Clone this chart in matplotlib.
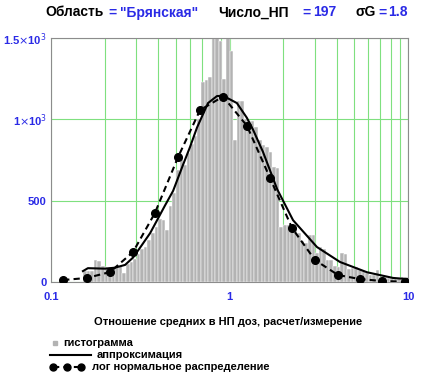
"""Histogram of calculated/measured dose ratio with fit and lognormal curve."""

import matplotlib

matplotlib.use("Agg")
import matplotlib.pyplot as plt
import numpy as np
from matplotlib.lines import Line2D
from matplotlib.ticker import FixedLocator, LogLocator, NullFormatter

plt.rcParams["font.family"] = ["Liberation Sans", "DejaVu Sans"]

BLUE = "#2a2ae6"
GREEN = "#7fe07f"
BAR = "#b3b3b3"

# histogram: log10 bin start, bin width (log10) and counts per bin
HIST_LOG_START = -0.82
HIST_LOG_WIDTH = 0.02
hist_counts = [
    65, 65, 70, 135, 130, 100, 95, 90, 85, 90,
    100, 55, 110, 120, 140, 170, 200, 215, 260, 300,
    340, 390, 380, 320, 470, 550, 690, 770, 720, 790,
    850, 900, 1000, 1230, 1240, 1260, 1560, 1560, 1480, 1250,
    1560, 1420, 870, 1115, 1115, 1000, 990, 990, 950, 870,
    840, 830, 800, 705, 700, 340, 350, 350, 320, 320,
    300, 250, 240, 290, 290, 180, 215, 200, 135, 135,
    100, 95, 178, 170, 80, 85, 90, 75, 70, 55,
    45, 45, 74, 30, 28, 27, 26, 25, 25, 28,
    30,
]

# approximation curve
fit_x = [0.151, 0.161, 0.201, 0.228, 0.260, 0.288, 0.315, 0.359, 0.393, 0.435,
         0.483, 0.549, 0.601, 0.658, 0.758, 0.851, 0.920, 1.10, 1.25, 1.35,
         1.54, 1.85, 2.27, 3.09, 4.16, 5.89, 8.24, 9.87]
fit_y = [67, 85, 82, 88, 105, 150, 210, 300, 380, 470,
         560, 720, 830, 950, 1100, 1143, 1145, 1100, 1010, 940,
         800, 570, 380, 215, 123, 60, 25, 18]

# lognormal distribution (marker points)
logn_x = [0.117, 0.159, 0.214, 0.288, 0.382, 0.515, 0.684, 0.920,
          1.253, 1.686, 2.239, 3.013, 4.054, 5.38, 7.15, 9.6]
logn_y = [12, 25, 61, 184, 424, 768, 1057, 1140,
          960, 640, 332, 135, 43, 18, 6, 2]

y_ticks = [0, 500, 1000, 1500]
y_ticklabels = ["0", "500", r"1$\times$10$^3$", r"1.5$\times$10$^3$"]
x_ticks = [0.1, 1, 10]
x_ticklabels = ["0.1", "1", "10"]

fig = plt.figure(figsize=(4.32, 3.89), dpi=100)
ax = fig.add_axes([51 / 432, 1 - 282 / 389, 357 / 432, 244 / 389])

edges = 10 ** (HIST_LOG_START + HIST_LOG_WIDTH * np.arange(len(hist_counts) + 1))
ax.bar(edges[:-1], hist_counts, width=np.diff(edges), align="edge",
       color=BAR, edgecolor="white", linewidth=0.35, zorder=2)
ax.plot(fit_x, fit_y, color="black", linewidth=1.5, zorder=3)
ax.plot(logn_x, logn_y, color="black", linewidth=1.5, linestyle=(0, (3, 2)),
        marker="o", markersize=5.5, zorder=4)

ax.set_xscale("log")
ax.set_xlim(0.1, 10)
ax.set_ylim(0, 1500)
ax.xaxis.set_major_locator(FixedLocator(x_ticks))
ax.xaxis.set_minor_locator(LogLocator(base=10, subs=np.arange(2, 10)))
ax.xaxis.set_minor_formatter(NullFormatter())
ax.set_xticklabels(x_ticklabels)
ax.set_yticks(y_ticks)
ax.set_yticklabels(y_ticklabels)
ax.tick_params(which="both", length=0, colors=BLUE, labelsize=8)
ax.tick_params(axis="x", pad=7)
ax.tick_params(axis="y", pad=3)
for lab in ax.get_xticklabels() + ax.get_yticklabels():
    lab.set_fontweight("bold")
ax.grid(which="both", axis="x", color=GREEN, linewidth=0.8, zorder=0)
ax.grid(which="major", axis="y", color=GREEN, linewidth=0.8, zorder=0)
ax.set_axisbelow(True)
for sp in ax.spines.values():
    sp.set_color("#8c8c8c")
    sp.set_linewidth(0.8)

# title made of coloured pieces
ty = 1 - 12.5 / 389
pieces = [
    (45, "Область", "black"), (108, "=", BLUE), (120, "\"Брянская\"", BLUE),
    (218, "Число_НП", "black"), (302, "=", BLUE), (313, "197", BLUE),
    (355, "σG", "black"), (378, "=", BLUE), (388, "1.8", BLUE),
]
for px, txt, col in pieces:
    fig.text(px / 432, ty, txt, color=col, fontsize=10, fontweight="bold",
             ha="left", va="center")

fig.text(228 / 432, 1 - 322 / 389, "Отношение средних в НП доз, расчет/измерение",
         fontsize=8, fontweight="bold", ha="center", va="center")

# legend rows
rows = [343, 355, 367]
fig.add_artist(Line2D([55 / 432], [1 - rows[0] / 389], marker="s", markersize=3,
                      color=BAR, linestyle="none"))
fig.text(63 / 432, 1 - rows[0] / 389, "гистограмма", fontsize=8,
         fontweight="bold", va="center")
fig.add_artist(Line2D([50 / 432, 91 / 432], [1 - rows[1] / 389] * 2,
                      color="black", linewidth=1.5))
fig.text(97 / 432, 1 - rows[1] / 389, "аппроксимация", fontsize=8,
         fontweight="bold", va="center")
fig.add_artist(Line2D([53 / 432, 67 / 432, 81 / 432], [1 - rows[2] / 389] * 3,
                      color="black", linewidth=1.5, linestyle=(0, (3, 2)),
                      marker="o", markersize=5))
fig.text(92 / 432, 1 - rows[2] / 389, "лог нормальное распределение", fontsize=8,
         fontweight="bold", va="center")

fig.savefig("out.png", dpi=100, facecolor="white")
